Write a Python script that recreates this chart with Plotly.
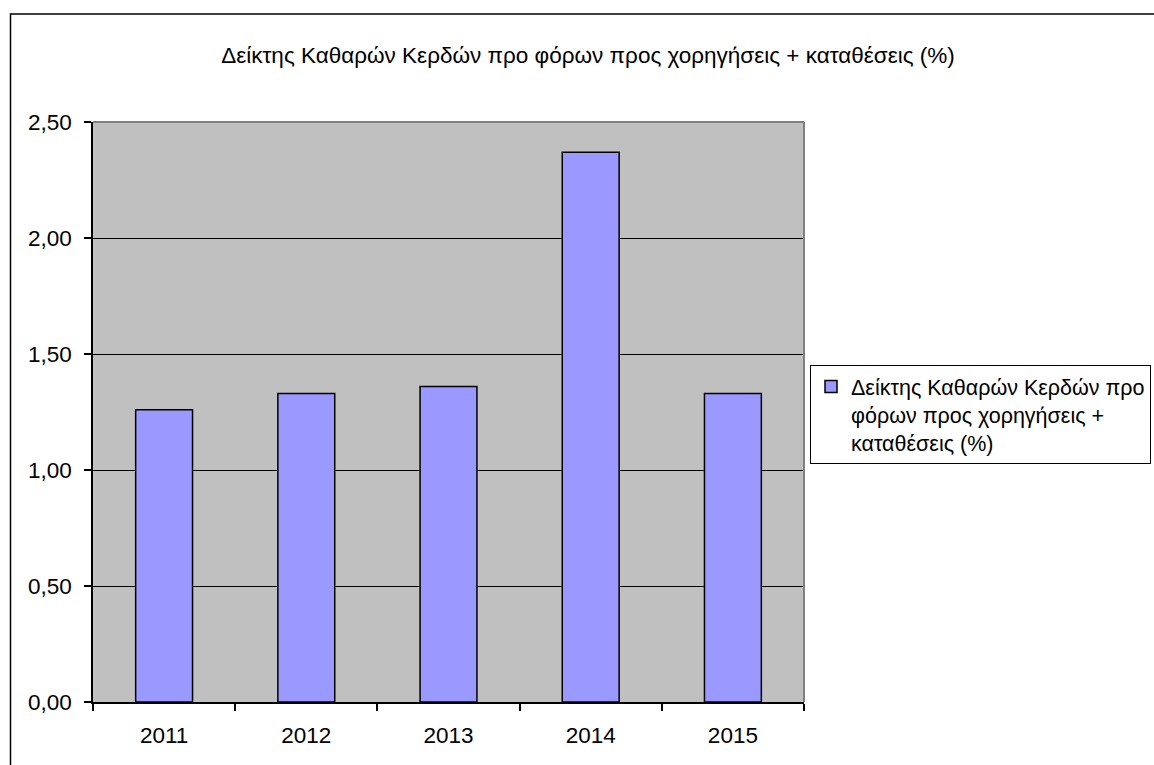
import plotly.graph_objects as go

# Annual ratio of pre-tax net profit to loans + deposits (%)
years = ["2011", "2012", "2013", "2014", "2015"]
ratio_values = [1.26, 1.33, 1.36, 2.37, 1.33]
series_name = "Δείκτης Καθαρών Κερδών προ<br>φόρων προς χορηγήσεις +<br>καταθέσεις (%)"
chart_title = "Δείκτης Καθαρών Κερδών προ φόρων προς χορηγήσεις + καταθέσεις (%)"
y_ticks = [0, 0.5, 1.0, 1.5, 2.0, 2.5]

W, H = 1154, 765
L, R, T, B = 93, 350, 122, 63
pw, ph = W - L - R, H - T - B

def px_x(x):
    return (x - L) / pw

def px_y(y):
    return (H - B - y) / ph

FONT = "Liberation Sans, Arial, sans-serif"
FS = 22.5

fig = go.Figure()
fig.add_trace(go.Bar(
    x=years,
    y=ratio_values,
    name=series_name,
    marker=dict(color="#9999FF", line=dict(color="#000000", width=1.5)),
    showlegend=True,
))

fig.update_layout(
    width=W,
    height=H,
    margin=dict(l=L, r=R, t=T, b=B, autoexpand=False),
    paper_bgcolor="#FFFFFF",
    plot_bgcolor="#C0C0C0",
    separators=",.",
    font=dict(family=FONT, size=FS, color="#000000"),
    bargap=0.6,
    showlegend=True,
    title=dict(
        text=chart_title,
        x=588 / W,
        xanchor="center",
        y=1 - 55 / H,
        yanchor="middle",
        font=dict(family=FONT, size=FS, color="#000000"),
    ),
    legend=dict(
        x=px_x(810),
        xanchor="left",
        y=px_y(365),
        yanchor="top",
        valign="top",
        bgcolor="#FFFFFF",
        bordercolor="#000000",
        borderwidth=1,
        itemwidth=30,
        font=dict(family=FONT, size=21.5, color="#000000"),
    ),
    xaxis=dict(
        type="category",
        showline=True,
        linecolor="#000000",
        linewidth=1.5,
        ticks="outside",
        tickson="boundaries",
        ticklen=7,
        tickwidth=1.5,
        tickcolor="#000000",
        showgrid=False,
        ticklabelstandoff=12,
        tickfont=dict(family=FONT, size=FS),
    ),
    yaxis=dict(
        range=[0, 2.5],
        tickvals=y_ticks,
        tickformat=".2f",
        showline=True,
        linecolor="#000000",
        linewidth=1.5,
        ticks="outside",
        ticklen=7,
        tickwidth=1.5,
        tickcolor="#000000",
        showgrid=True,
        gridcolor="#000000",
        gridwidth=1.2,
        zeroline=False,
        ticklabelstandoff=8,
        tickfont=dict(family=FONT, size=FS),
    ),
    shapes=[
        # plot area top and right edges
        dict(type="line", xref="paper", yref="paper", x0=0, x1=1, y0=1, y1=1,
             line=dict(color="#808080", width=2), layer="above"),
        dict(type="line", xref="paper", yref="paper", x0=1, x1=1, y0=0, y1=1,
             line=dict(color="#808080", width=2), layer="above"),
        # chart frame
        dict(type="rect", xref="paper", yref="paper",
             x0=px_x(10.5), x1=px_x(W + 20), y0=px_y(H + 20), y1=px_y(14),
             line=dict(color="#000000", width=1.5), fillcolor="rgba(0,0,0,0)",
             layer="above"),
    ],
)

fig.write_html("out.html")
